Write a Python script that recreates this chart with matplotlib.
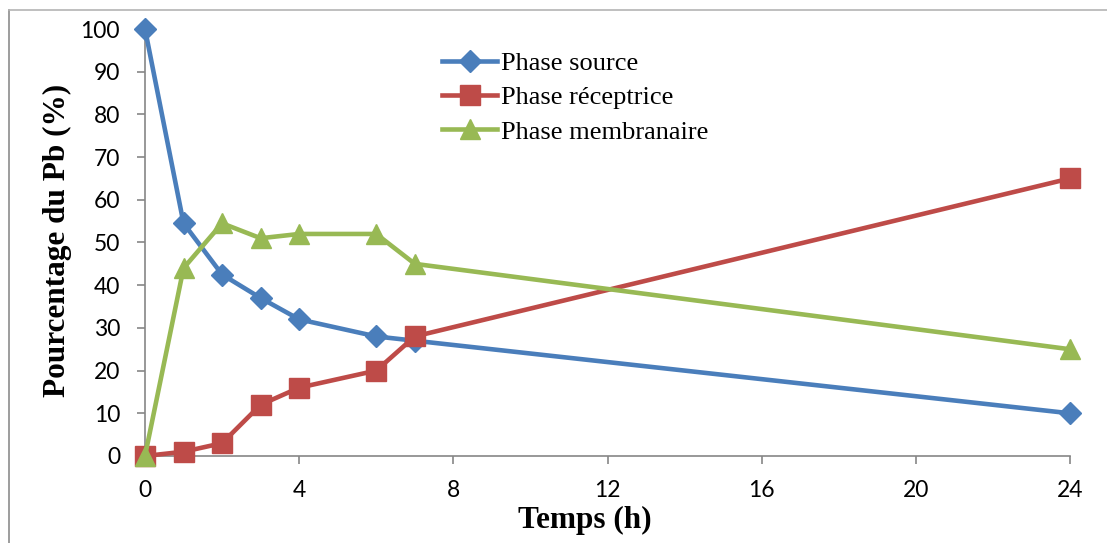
import matplotlib
matplotlib.use("Agg")
import matplotlib.pyplot as plt
from matplotlib.lines import Line2D

# Sampling times (h)
temps = [0, 1, 2, 3, 4, 6, 7, 24]

# Lead percentage in each phase
phase_source = [100, 54.5, 42.5, 37, 32, 28, 27, 10]
phase_receptrice = [0, 1, 3, 12, 16, 20, 28, 65]
phase_membranaire = [0, 44, 54.5, 51, 52, 52, 45, 25]

series_labels = ["Phase source", "Phase réceptrice", "Phase membranaire"]
x_ticks = [0, 4, 8, 12, 16, 20, 24]
y_ticks = list(range(0, 101, 10))

W, H = 1107, 543
fig = plt.figure(figsize=(W / 100, H / 100), dpi=100)
fig.patch.set_facecolor("white")

left, right, top, bottom = 145, 1070, 29, 456
ax = fig.add_axes([left / W, (H - bottom) / H, (right - left) / W, (bottom - top) / H])

blue, red, green = "#4A7EBB", "#BE4B48", "#98B954"
lw = 3.3
ax.plot(temps, phase_source, color=blue, lw=lw, marker="D", ms=11,
        label=series_labels[0], clip_on=False, zorder=3)
ax.plot(temps, phase_receptrice, color=red, lw=lw, marker="s", ms=14,
        label=series_labels[1], clip_on=False, zorder=4)
ax.plot(temps, phase_membranaire, color=green, lw=lw, marker="^", ms=15,
        label=series_labels[2], clip_on=False, zorder=5)

ax.set_xlim(0, 24)
ax.set_ylim(0, 100)
ax.set_xticks(x_ticks)
ax.set_yticks(y_ticks)

for s in ["top", "right"]:
    ax.spines[s].set_visible(False)
axis_grey = "#868686"
for s in ["left", "bottom"]:
    ax.spines[s].set_color(axis_grey)
    ax.spines[s].set_linewidth(1.2)

ax.tick_params(axis="both", direction="out", length=6, width=1.2, color=axis_grey)
ax.tick_params(axis="y", pad=12)
ax.tick_params(axis="x", pad=11)
for lab in ax.get_xticklabels() + ax.get_yticklabels():
    lab.set_fontfamily("Lato")
    lab.set_fontsize(16.5)

fig.text(57 / W, 1 - 240 / H, "Pourcentage du Pb (%)", rotation=90,
         ha="center", va="center", family="Liberation Serif",
         fontweight="bold", fontsize=22.5)
fig.text(585 / W, 1 - 520 / H, "Temps (h)", ha="center", va="center",
         family="Liberation Serif", fontweight="bold", fontsize=22.5)

leg = ax.legend(loc="upper left", bbox_to_anchor=(442 / W, 1 - 52 / H),
                bbox_transform=fig.transFigure, frameon=False,
                prop=dict(family="Liberation Serif", size=19),
                handlelength=2.1, handletextpad=0.12, labelspacing=0.4,
                borderaxespad=0, borderpad=0)

# Outer frame of the chart area
fig.add_artist(Line2D([8.5 / W, 8.5 / W], [0, 1 - 9.5 / H],
                      transform=fig.transFigure, color="#8c8c8c", lw=1.2))
fig.add_artist(Line2D([8.5 / W, 1], [1 - 9.5 / H, 1 - 9.5 / H],
                      transform=fig.transFigure, color="#b4b4b4", lw=1.2))

fig.savefig("out.png", dpi=100, facecolor="white")
